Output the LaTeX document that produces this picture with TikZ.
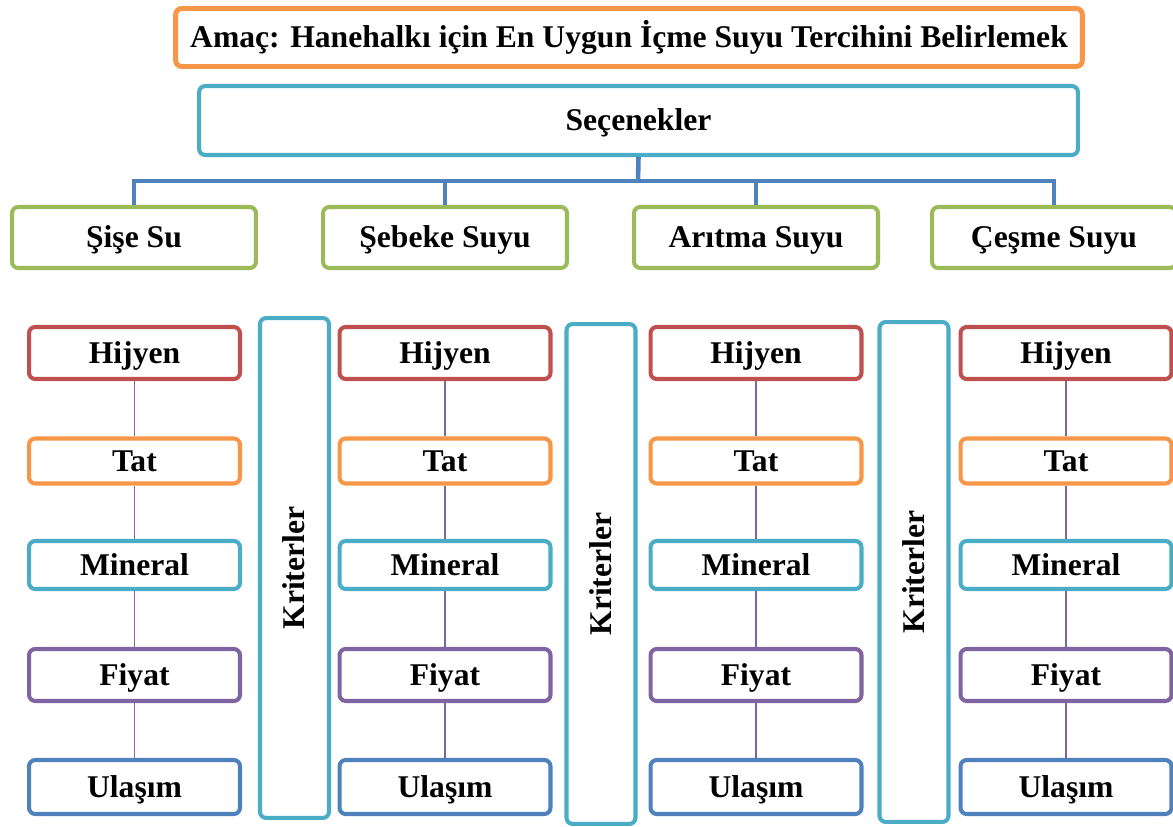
\documentclass[tikz,border=0pt]{standalone}
\usepackage{fontspec}
\setmainfont{Liberation Serif}
\usetikzlibrary{positioning}
\definecolor{OfficeRed}{RGB}{192,80,77}
\definecolor{OfficeOrange}{RGB}{247,150,70}
\definecolor{OfficeAqua}{RGB}{75,172,198}
\definecolor{OfficePurple}{RGB}{128,100,162}
\definecolor{OfficeBlue}{RGB}{79,129,189}
\definecolor{OfficeGreen}{RGB}{155,187,89}

\begin{document}
\begin{tikzpicture}[x=0.02cm, y=-0.02cm,
    box/.style={rectangle, rounded corners=3.5pt, line width=2.3pt, fill=white, inner sep=0pt,
        font=\fontsize{18}{20}\selectfont\bfseries, text height=11.9pt, text depth=0pt},
    goal/.style={box, draw=OfficeOrange, line width=2.8pt, minimum width=18.14cm, minimum height=1.16cm},
    options/.style={box, draw=OfficeAqua, minimum width=17.58cm, minimum height=1.38cm},
    alt/.style={box, draw=OfficeGreen, minimum width=4.88cm, minimum height=1.22cm},
    crit/.style={box, minimum width=4.22cm},
    kriter/.style={box, draw=OfficeAqua, rotate=90, minimum width=10cm, minimum height=1.38cm},
    tree/.style={draw=OfficeBlue, line width=2.6pt},
    link/.style={draw=OfficePurple, line width=0.8pt}
]
\useasboundingbox (0,0) rectangle (1173,827);

% Goal and options
\node[goal] (goal) at (629,37.5) {Amaç: Hanehalkı için En Uygun İçme Suyu Tercihini Belirlemek};
\node[options] (options) at (638.5,120.5) {Seçenekler};

% Alternatives
\coordinate (bus) at (638,181);
\foreach \name/\cx [count=\i] in {Şişe Su/134, Şebeke Suyu/445, Arıtma Suyu/756, Çeşme Suyu/1054} {
    \node[alt] (alt\i) at (\cx,237.5) {\name};
    \draw[tree] (alt\i.north) |- (bus);
}
\draw[tree] (options.south) -- (bus);

% Criteria columns
\foreach \cx [count=\i] in {134.5,445,756,1066} {
    \foreach \name/\cy/\boxh/\boxcol [count=\j] in {Hijyen/353/1.04/OfficeRed, Tat/461/0.9/OfficeOrange,
        Mineral/565/0.96/OfficeAqua, Fiyat/675/1.04/OfficePurple, Ulaşım/787/1.08/OfficeBlue} {
        \node[crit, draw=\boxcol, minimum height=\boxh cm] (c\i\j) at (\cx,\cy) {\name};
    }
    \foreach \j [remember=\j as \p (initially 1)] in {2,...,5} {
        \draw[link] (c\i\p) -- (c\i\j);
    }
}

% Kriterler bars
\node[kriter] (krit1) at (294.5,568) {Kriterler};
\node[kriter] (krit2) at (601,574) {Kriterler};
\node[kriter] (krit3) at (914,572) {Kriterler};

\end{tikzpicture}
\end{document}
